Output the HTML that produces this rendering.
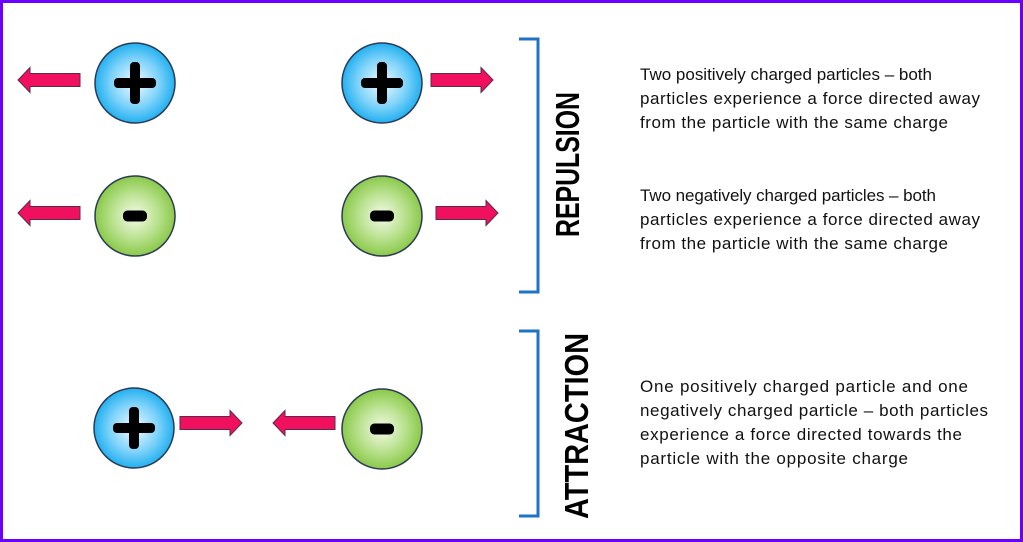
<!DOCTYPE html>
<html><head><meta charset="utf-8"><style>
html,body{margin:0;padding:0;background:#fff}
svg{display:block}
</style></head><body>
<svg width="1023" height="542" viewBox="0 0 1023 542" xmlns="http://www.w3.org/2000/svg">
<defs>
<radialGradient id="b" cx="50%" cy="50%" r="50%"><stop offset="0" stop-color="#f2fbff"/><stop offset="0.6" stop-color="#7fd3fa"/><stop offset="1" stop-color="#22b0f0"/></radialGradient>
<radialGradient id="g" cx="50%" cy="50%" r="50%"><stop offset="0" stop-color="#f4fbea"/><stop offset="0.6" stop-color="#b7e08a"/><stop offset="1" stop-color="#8ac94a"/></radialGradient>
<g id="plus"><circle r="40" fill="url(#b)" stroke="#2b3a55" stroke-width="1.5"/><rect x="-21" y="-5" width="42" height="10" rx="4" fill="#000"/><rect x="-5" y="-21" width="10" height="42" rx="4" fill="#000"/></g>
<g id="minus"><circle r="40" fill="url(#g)" stroke="#2b3a55" stroke-width="1.5"/><rect x="-12" y="-5.5" width="24" height="11" rx="4.5" fill="#000"/></g>
<g id="ar"><polygon points="0,-6.5 50,-6.5 50,-12.5 62,0 50,12.5 50,6.5 0,6.5" fill="#f0105e" stroke="#5a2a4a" stroke-width="1"/></g>
</defs>
<rect x="1.5" y="1.5" width="1020" height="539" fill="#fff" stroke="#6a00ff" stroke-width="3"/>
<use href="#plus" x="135" y="83"/>
<use href="#minus" x="135" y="216"/>
<use href="#plus" x="382" y="83"/>
<use href="#minus" x="382" y="216"/>
<use href="#plus" x="134" y="428"/>
<use href="#minus" x="382" y="429"/>
<use href="#ar" transform="translate(80,80) scale(-1,1)"/>
<use href="#ar" transform="translate(80,213) scale(-1,1)"/>
<use href="#ar" transform="translate(431,80)"/>
<use href="#ar" transform="translate(436,213)"/>
<use href="#ar" transform="translate(180,423)"/>
<use href="#ar" transform="translate(335,423) scale(-1,1)"/>
<path d="M519,39 H538 V292 H519" fill="none" stroke="#1f72c8" stroke-width="3"/>
<path d="M519,331 H538 V516 H519" fill="none" stroke="#1f72c8" stroke-width="3"/>
<g font-family="Liberation Sans, sans-serif" font-weight="bold" font-size="33" fill="#000">
<text transform="translate(579,237) rotate(-90)" textLength="145" lengthAdjust="spacingAndGlyphs">REPULSION</text>
<text transform="translate(588,519) rotate(-90)" textLength="186" lengthAdjust="spacingAndGlyphs">ATTRACTION</text>
</g>
<g font-family="Liberation Sans, sans-serif" font-size="17" fill="#111" lengthAdjust="spacingAndGlyphs">
<text x="640" y="80" textLength="292">Two positively charged particles – both</text>
<text x="640" y="104" textLength="340">particles experience a force directed away</text>
<text x="640" y="128" textLength="308">from the particle with the same charge</text>
<text x="640" y="201" textLength="296">Two negatively charged particles – both</text>
<text x="640" y="225" textLength="340">particles experience a force directed away</text>
<text x="640" y="249" textLength="308">from the particle with the same charge</text>
<text x="640" y="392" textLength="328">One positively charged particle and one</text>
<text x="640" y="416" textLength="348">negatively charged particle – both particles</text>
<text x="640" y="440" textLength="322">experience a force directed towards the</text>
<text x="640" y="464" textLength="268">particle with the opposite charge</text>
</g>
</svg>
</body></html>
